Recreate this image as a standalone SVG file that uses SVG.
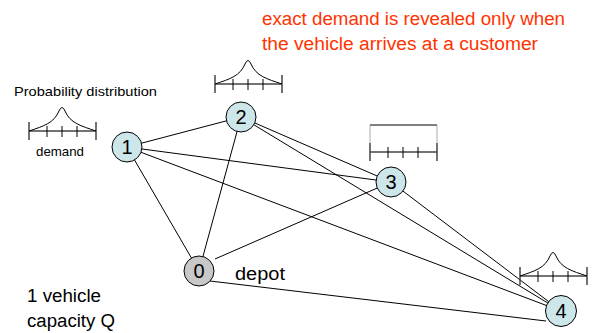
<svg xmlns="http://www.w3.org/2000/svg" width="594" height="333" viewBox="0 0 594 333">
<style>
.edge{stroke:#000;stroke-width:1;fill:none}
.node{fill:#cce6ea;stroke:#000;stroke-width:1}
.depot{fill:#c8c8c8;stroke:#000;stroke-width:1}
.nl{font-family:"Liberation Sans",Arial,sans-serif;font-size:20px;text-anchor:middle;fill:#000}
.t{font-family:"Liberation Sans",Arial,sans-serif;fill:#000}
.red{font-family:"Liberation Sans",Arial,sans-serif;font-size:18px;fill:#ff3300}
.base{stroke:#444;stroke-width:1.5;fill:none}
.tick{stroke:#000;stroke-width:1;fill:none}
.curve{stroke:#000;stroke-width:1;fill:none}
</style>
<defs>
<g id="axis">
<line class="base" x1="0" y1="0" x2="67" y2="0"/>
<line class="base" x1="0" y1="-9" x2="0" y2="9"/>
<line class="base" x1="67" y1="-9" x2="67" y2="9"/>
<line class="tick" x1="18" y1="-5" x2="18" y2="6"/>
<line class="tick" x1="33" y1="-5" x2="33" y2="6"/>
<line class="tick" x1="48" y1="-5" x2="48" y2="6"/>
</g>
<g id="dist">
<use href="#axis"/>
<path class="curve" d="M0,0 C15,-5 25,-8 30,-20 Q33,-27 36,-20 C41,-8 52,-5 67,0"/>
</g>
</defs>
<g id="connectors">
<line class="edge" x1="127" y1="147" x2="241" y2="117"/>
<line class="edge" x1="127" y1="147" x2="391" y2="182"/>
<line class="edge" x1="127" y1="147" x2="561" y2="311"/>
<line class="edge" x1="127" y1="147" x2="199" y2="271"/>
<line class="edge" x1="241" y1="117" x2="391" y2="182"/>
<line class="edge" x1="241" y1="117" x2="561" y2="311"/>
<line class="edge" x1="241" y1="117" x2="199" y2="271"/>
<line class="edge" x1="391" y1="182" x2="215" y2="259"/>
<line class="edge" x1="391" y1="182" x2="561" y2="311"/>
<line class="edge" x1="210" y1="281" x2="546" y2="321"/>
</g>
<g id="node1">
<circle class="node" cx="127" cy="147" r="15"/>
<text class="nl" x="127" y="154">1</text>
<use href="#dist" x="29" y="131"/>
<text class="t" x="14" y="96" font-size="13" textLength="143" lengthAdjust="spacingAndGlyphs">Probability distribution</text>
<text class="t" x="36" y="156" font-size="13" textLength="48" lengthAdjust="spacingAndGlyphs">demand</text>
</g>
<g id="node2">
<circle class="node" cx="241" cy="117" r="15"/>
<text class="nl" x="241" y="124">2</text>
<use href="#dist" x="215" y="84"/>
</g>
<g id="node3">
<circle class="node" cx="391" cy="182" r="15"/>
<text class="nl" x="391" y="189">3</text>
<use href="#axis" x="370" y="152"/>
<line x1="370" y1="125" x2="437" y2="125" stroke="#000" stroke-width="1"/>
<line x1="370" y1="125" x2="370" y2="143" stroke="#888" stroke-width="0.7"/>
<line x1="437" y1="125" x2="437" y2="143" stroke="#888" stroke-width="0.7"/>
</g>
<g id="node0">
<circle class="depot" cx="199" cy="271" r="15"/>
<text class="nl" x="199" y="278">0</text>
<text class="t" x="235" y="280" font-size="18" textLength="50" lengthAdjust="spacingAndGlyphs">depot</text>
</g>
<g id="node4">
<circle class="node" cx="561" cy="311" r="15.5"/>
<text class="nl" x="561" y="318">4</text>
<use href="#dist" x="520" y="276"/>
</g>
<g id="notes">
<text class="t" x="27" y="302" font-size="18" textLength="74" lengthAdjust="spacingAndGlyphs">1 vehicle</text>
<text class="t" x="27" y="327" font-size="18" textLength="88" lengthAdjust="spacingAndGlyphs">capacity Q</text>
<text class="red" x="262" y="25" textLength="303" lengthAdjust="spacingAndGlyphs">exact demand is revealed only when</text>
<text class="red" x="262" y="50" textLength="276" lengthAdjust="spacingAndGlyphs">the vehicle arrives at a customer</text>
</g>
</svg>
